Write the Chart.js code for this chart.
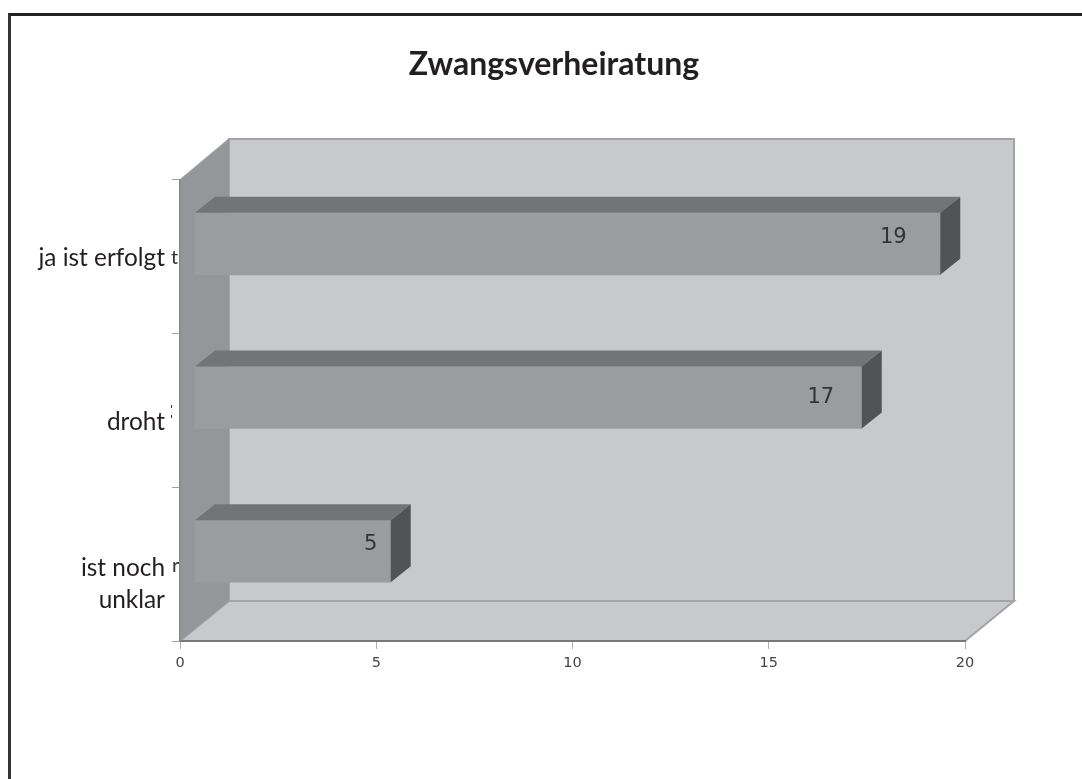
<!DOCTYPE html>
<html lang="de">
<head>
<meta charset="utf-8">
<style>
html,body{margin:0;padding:0;background:#fff;overflow:hidden}
#frame{position:absolute;left:8px;top:13px;right:0;bottom:0;border-top:3px solid #222;border-left:3px solid #333}
canvas{position:absolute;left:0;top:0}
</style>
<script src="https://cdn.jsdelivr.net/npm/chart.js@4/dist/chart.umd.min.js"></script>
</head>
<body>
<div id="frame"></div>
<canvas id="c" width="1082" height="779"></canvas>
<script>
const titleText = "Zwangsverheiratung";
const categories = [["ja ist erfolgt"], ["droht"], ["ist noch", "unklar"]];
const seriesValues = [19, 17, 5];
const xTickMax = 20;
const xTickStep = 5;

const style = {
  wall: "#95969a", back: "#c8c9cb", edge: "#a3a4a7",
  front: "#9b9c9f", top: "#737477", side: "#525355",
  depth: { x: 49, y: 40 }, barDepth: { x: 20, y: 16 }, barShift: { x: 14.5, y: -13 },
  labelFont: "Lato", tickFont: "DejaVu Sans"
};
const labelNudgeY = [1, 12, 20];
const valueNudge = [{ x: -47, y: -6 }, { x: -41, y: 0 }, { x: -20, y: -7 }];

function poly(ctx, pts, fill, stroke, lw) {
  ctx.beginPath();
  pts.forEach((p, i) => i ? ctx.lineTo(p[0], p[1]) : ctx.moveTo(p[0], p[1]));
  ctx.closePath();
  if (fill) { ctx.fillStyle = fill; ctx.fill(); }
  if (stroke) { ctx.strokeStyle = stroke; ctx.lineWidth = lw || 1; ctx.stroke(); }
}

const box3d = {
  id: "box3d",
  beforeDraw(chart) {
    const { ctx, chartArea: a, scales } = chart;
    const d = style.depth;
    // category label nudges, kept on the library's own label items
    scales.y.getLabelItems(a).forEach((item, i) => {
      if (!item.nudged) {
        item.options.translation = [item.options.translation[0], item.options.translation[1] + labelNudgeY[i]];
        item.nudged = true;
      }
    });
    scales.y.left = 0; // let the long category labels run left of the narrow axis box
    const xl = a.left, xr = a.right, yt = a.top, yb = a.bottom;
    poly(ctx, [[xl + d.x, yt - d.y - 1], [xr + d.x, yt - d.y - 1], [xr + d.x, yb - d.y], [xl + d.x, yb - d.y]], style.back, style.edge, 2);
    poly(ctx, [[xl, yb], [xl + d.x, yb - d.y], [xr + d.x, yb - d.y], [xr, yb]], style.back, style.edge, 2);
    poly(ctx, [[xl, yt], [xl + d.x, yt - d.y - 1], [xl + d.x, yb - d.y], [xl, yb]], style.wall);
    ctx.strokeStyle = "#9d9ea1"; ctx.lineWidth = 1.5;
    ctx.beginPath(); ctx.moveTo(xl, yt); ctx.lineTo(xl + d.x, yt - d.y - 1); ctx.stroke();
    // clipped remnants of the category labels beside the axis
    ctx.save();
    ctx.fillStyle = "#333";
    ctx.font = "20px " + style.labelFont;
    ctx.textAlign = "left"; ctx.textBaseline = "alphabetic";
    ctx.fillText("t", 171, 264);
    ctx.fillText("r", 172, 572);
    ctx.fillRect(171, 405, 1, 3);
    ctx.fillRect(171, 415, 1, 3);
    ctx.restore();
  },
  beforeDatasetsDraw(chart) {
    chart.ctx.save();
    chart.ctx.translate(style.barShift.x, style.barShift.y);
  },
  afterDatasetsDraw(chart) {
    const { ctx } = chart;
    ctx.restore();
    const s = style.barShift, b = style.barDepth;
    chart.getDatasetMeta(0).data.forEach((bar, i) => {
      const p = bar.getProps(["x", "y", "base", "height"], true);
      const x0 = p.base + s.x, x1 = p.x + s.x;
      const y0 = p.y - p.height / 2 + s.y, y1 = p.y + p.height / 2 + s.y;
      poly(ctx, [[x0, y0], [x0 + b.x, y0 - b.y], [x1 + b.x, y0 - b.y], [x1, y0]], style.top);
      poly(ctx, [[x1, y0], [x1 + b.x, y0 - b.y], [x1 + b.x, y1 - b.y], [x1, y1]], style.side);
      ctx.fillStyle = "#333";
      ctx.font = "21px " + style.tickFont;
      ctx.textAlign = "center"; ctx.textBaseline = "middle";
      ctx.fillText(String(seriesValues[i]), x1 + valueNudge[i].x, (y0 + y1) / 2 + valueNudge[i].y);
    });
  }
};

new Chart(document.getElementById("c"), {
  type: "bar",
  data: {
    labels: categories,
    datasets: [{
      data: seriesValues,
      backgroundColor: style.front,
      borderWidth: 0,
      barThickness: 62,
      clip: false
    }]
  },
  options: {
    indexAxis: "y",
    responsive: false,
    animation: false,
    events: [],
    layout: { padding: { left: 143, right: 117, top: 45, bottom: 0 } },
    plugins: {
      legend: { display: false },
      tooltip: { enabled: false },
      title: {
        display: true,
        text: titleText,
        color: "#231f20",
        font: { family: "Lato", size: 32, weight: "bold", lineHeight: 1.25 },
        padding: { top: 0, bottom: 95 }
      }
    },
    scales: {
      x: {
        type: "linear", min: 0, max: xTickMax,
        ticks: { stepSize: xTickStep, color: "#444", padding: 6, maxRotation: 0, font: { family: style.tickFont, size: 14.5 } },
        grid: { drawOnChartArea: false, drawTicks: true, tickLength: 8, color: "#b0b1b4" },
        border: { color: "#77787b", width: 2 },
        afterFit(scale) { scale.height = 138; }
      },
      y: {
        type: "category",
        ticks: { color: "#231f20", padding: 7, font: { family: style.labelFont, size: 24.4, lineHeight: 1.3 }, crossAlign: "near" },
        grid: { drawOnChartArea: false, drawTicks: true, tickLength: 8, offset: true, color: "#a0a1a4" },
        border: { color: "#88898c", width: 1.5 },
        afterFit(scale) { scale.width = 37; }
      }
    }
  },
  plugins: [box3d]
});
</script>
</body>
</html>
